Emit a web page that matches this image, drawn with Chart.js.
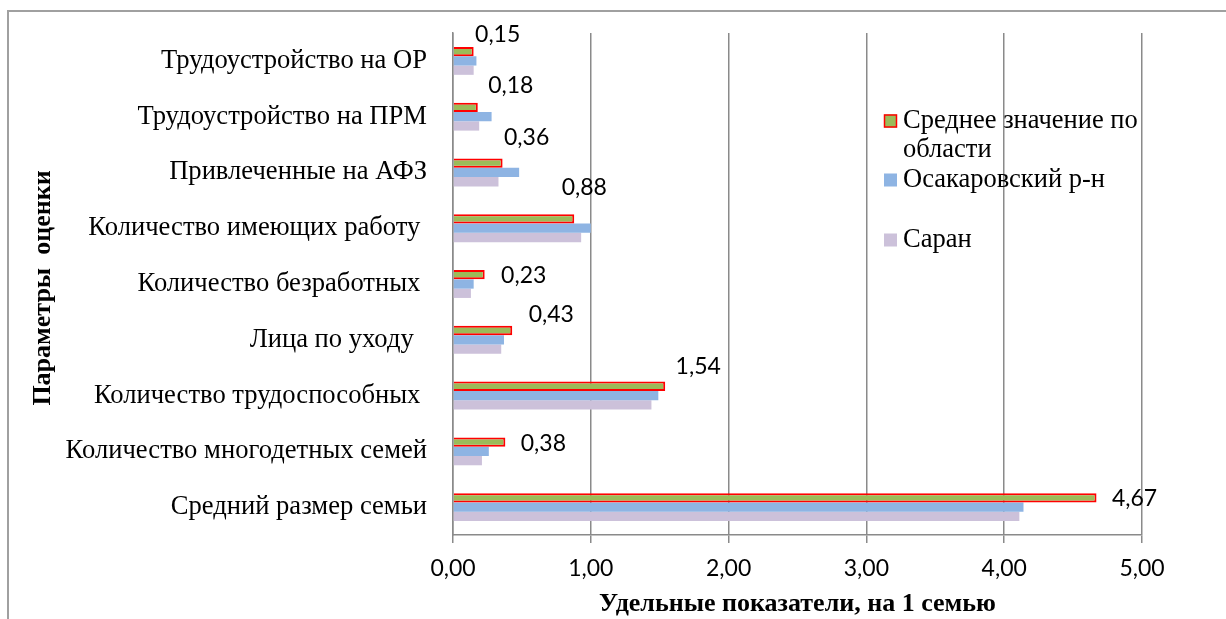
<!DOCTYPE html>
<html lang="ru">
<head>
<meta charset="utf-8">
<title>Удельные показатели, на 1 семью</title>
<script src="https://cdn.jsdelivr.net/npm/chart.js@4.4.1/dist/chart.umd.min.js"></script>
<style>
  html, body { margin: 0; padding: 0; background: #fff; }
  #chart { display: block; }
</style>
</head>
<body>
<canvas id="chart" width="1226" height="619"></canvas>
<script>
// data
const categories = [
  "Трудоустройство на ОР",
  "Трудоустройство на ПРМ",
  "Привлеченные на АФЗ",
  "Количество имеющих работу ",
  "Количество безработных ",
  "Лица по уходу  ",
  "Количество трудоспособных ",
  "Количество многодетных семей",
  "Средний размер семьи"
];
const seriesNames = ["Среднее значение по области", "Осакаровский р-н", "Саран"];
const avgRegion  = [0.15, 0.18, 0.36, 0.88, 0.23, 0.43, 1.54, 0.38, 4.67];
const osakarovka = [0.17, 0.28, 0.48, 1.00, 0.15, 0.37, 1.49, 0.26, 4.14];
const saran      = [0.15, 0.19, 0.33, 0.93, 0.13, 0.35, 1.44, 0.21, 4.11];
const xTicks = [0, 1, 2, 3, 4, 5];
const xTitle = "Удельные показатели, на 1 семью";
const yTitle = "Параметры  оценки";

// label placement relative to the bar end (the labels were moved by hand in the original)
const labelNudge = [[24, -17], [33, -22], [24, -26], [10, -31], [39, 1], [39, -16], [33, -20], [38, 2], [38, 1]];

const serif = "'Liberation Serif', 'Times New Roman', serif";
const sans = "Lato, 'Open Sans', sans-serif";
const gridGray = "#8a8a8a";

const fmt = v => Number(v).toFixed(2).replace(".", ",");

const decorPlugin = {
  id: "decor",
  beforeDraw(chart) {
    const ctx = chart.ctx;
    ctx.save();
    ctx.strokeStyle = "#a0a0a0";
    ctx.lineWidth = 2;
    ctx.strokeRect(8, 11, 1400, 800);
    ctx.restore();
  },
  afterDatasetsDraw(chart) {
    const ctx = chart.ctx;
    const meta = chart.getDatasetMeta(0);
    ctx.save();
    ctx.font = "23px " + sans;
    ctx.fillStyle = "#000";
    ctx.textAlign = "center";
    ctx.textBaseline = "middle";
    meta.data.forEach((bar, i) => {
      const n = labelNudge[i] || [38, 0];
      ctx.fillText(fmt(avgRegion[i]), bar.x + n[0], bar.y + n[1]);
    });
    ctx.restore();
  },
  afterDraw(chart) {
    const ctx = chart.ctx;
    const area = chart.chartArea;
    ctx.save();
    ctx.fillStyle = "#000";
    ctx.textAlign = "center";
    ctx.textBaseline = "middle";
    ctx.font = "bold 26px " + serif;
    ctx.fillText(xTitle, (area.left + area.right) / 2, 604);
    ctx.translate(43, (area.top + area.bottom) / 2 + 4);
    ctx.rotate(-Math.PI / 2);
    ctx.fillText(yTitle, 0, 0);
    ctx.restore();

    // legend
    ctx.save();
    ctx.font = "26.5px " + serif;
    ctx.textAlign = "left";
    ctx.textBaseline = "middle";
    const rows = [121, 180, 240];
    chart.data.datasets.forEach((ds, i) => {
      const y = rows[i];
      ctx.fillStyle = ds.backgroundColor;
      ctx.fillRect(884, y - 6.5, 13, 13);
      if (ds.borderWidth) {
        ctx.strokeStyle = ds.borderColor;
        ctx.lineWidth = 1.5;
        ctx.strokeRect(884.5, y - 6, 12, 12);
      }
      ctx.fillStyle = "#000";
      // simple word wrap
      const words = ds.label.split(" ");
      let line = "";
      let ly = y;
      words.forEach(w => {
        const test = line ? line + " " + w : w;
        if (ctx.measureText(test).width > 255 && line) {
          ctx.fillText(line, 903, ly);
          line = w;
          ly += 29;
        } else {
          line = test;
        }
      });
      ctx.fillText(line, 903, ly);
    });
    ctx.restore();
  }
};

new Chart(document.getElementById("chart"), {
  type: "bar",
  data: {
    labels: categories,
    datasets: [
      { label: seriesNames[0], data: avgRegion, backgroundColor: "#9BBB59", borderColor: "#FF0000", borderWidth: 2 },
      { label: seriesNames[1], data: osakarovka, backgroundColor: "#8EB4E3", borderWidth: 0 },
      { label: seriesNames[2], data: saran, backgroundColor: "#CCC1DA", borderWidth: 0 }
    ]
  },
  options: {
    indexAxis: "y",
    responsive: false,
    animation: false,
    layout: { padding: { top: 33, right: 84, left: 0, bottom: 0 } },
    datasets: { bar: { categoryPercentage: 0.5, barPercentage: 1.0 } },
    plugins: {
      legend: { display: false },
      tooltip: { enabled: false }
    },
    scales: {
      y: {
        grid: { display: false },
        border: { display: true, color: gridGray, width: 1.5 },
        ticks: { color: "#000", font: { family: serif, size: 26.6 }, padding: 18 },
        afterFit(scale) {
          scale.width = 453;
          scale.paddingTop = 0;
          scale.paddingBottom = 0;
        }
      },
      x: {
        min: 0,
        max: 5,
        afterBuildTicks(scale) { scale.ticks = xTicks.map(v => ({ value: v })); },
        grid: { color: gridGray, lineWidth: 1.5, tickLength: 8 },
        border: { display: true, color: gridGray, width: 1.5 },
        ticks: { color: "#000", font: { family: sans, size: 23 }, padding: 12, callback: v => fmt(v) },
        afterFit(scale) {
          scale.height = 84;
          scale.paddingLeft = 0;
          scale.paddingRight = 0;
        }
      }
    }
  },
  plugins: [decorPlugin]
});
</script>
</body>
</html>
